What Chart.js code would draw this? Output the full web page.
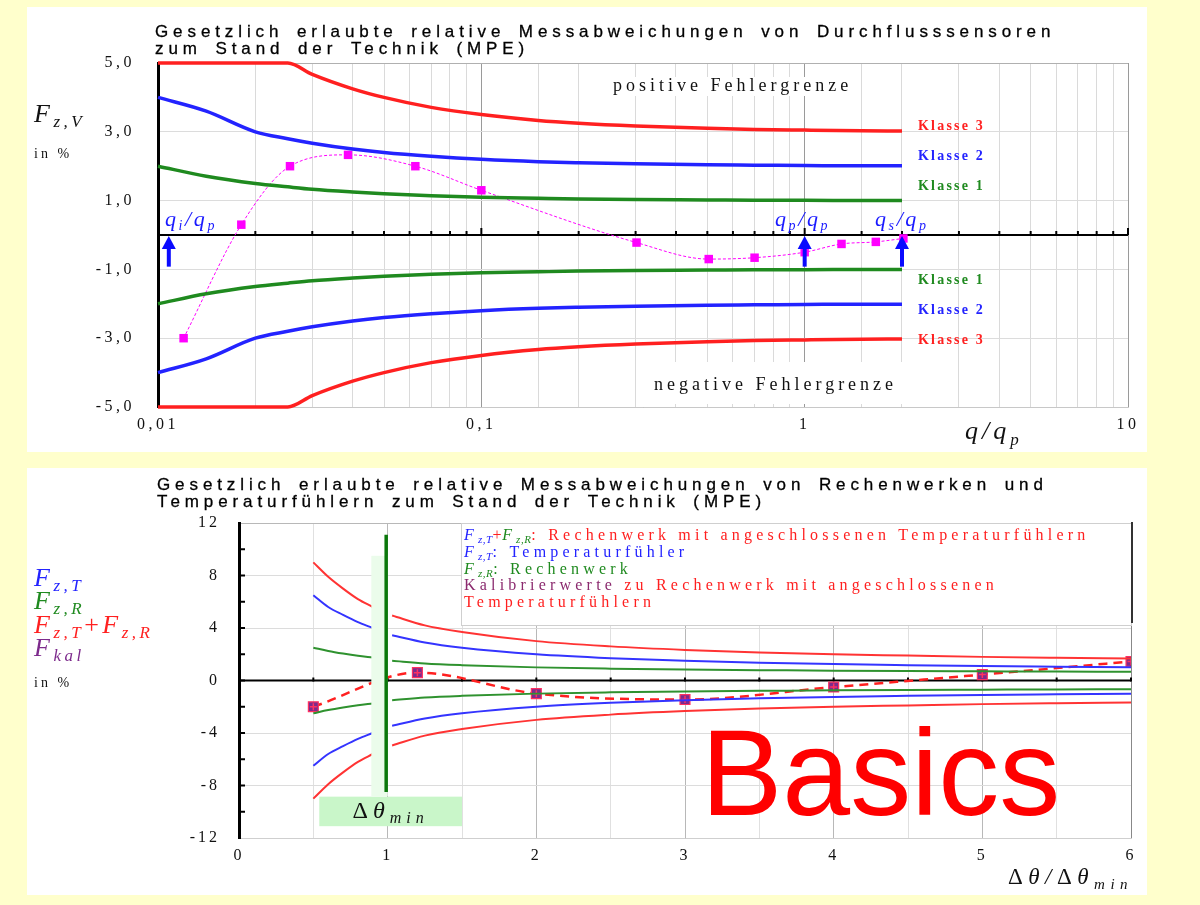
<!DOCTYPE html>
<html>
<head>
<meta charset="utf-8">
<script src="https://cdn.jsdelivr.net/npm/chart.js@4.4.1/dist/chart.umd.min.js"></script>
<style>
  body { margin:0; background:#ffffcc; width:1200px; height:905px; overflow:hidden; position:relative; }
  canvas { position:absolute; background:#fff; }
  #top { left:27px; top:7px; }
  #bottom { left:27px; top:468px; }
</style>
</head>
<body>
<canvas id="top" width="1120" height="445"></canvas>
<canvas id="bottom" width="1120" height="427"></canvas>
<script>
// ---- top chart: Durchflusssensoren, x = q/qp (log) ----
const qX = [0.01, 0.0141, 0.02, 0.0252, 0.03, 0.04, 0.05, 0.07, 0.1, 0.15, 0.2, 0.3, 0.5, 0.7, 1, 1.5, 2];
const class3Pos = [5.0, 5.0, 5.0, 5.0, 4.67, 4.25, 4.0, 3.71, 3.5, 3.33, 3.25, 3.17, 3.1, 3.07, 3.05, 3.03, 3.02];
const class2Pos = [4.0, 3.6, 3.0, 2.8, 2.67, 2.5, 2.4, 2.29, 2.2, 2.13, 2.1, 2.07, 2.04, 2.03, 2.02, 2.01, 2.01];
const class1Pos = [2.0, 1.71, 1.5, 1.4, 1.33, 1.25, 1.2, 1.14, 1.1, 1.07, 1.05, 1.03, 1.02, 1.01, 1.01, 1.0, 1.0];
const class1Neg = [-2.0, -1.71, -1.5, -1.4, -1.33, -1.25, -1.2, -1.14, -1.1, -1.07, -1.05, -1.03, -1.02, -1.01, -1.01, -1.0, -1.0];
const class2Neg = [-4.0, -3.6, -3.0, -2.8, -2.67, -2.5, -2.4, -2.29, -2.2, -2.13, -2.1, -2.07, -2.04, -2.03, -2.02, -2.01, -2.01];
const class3Neg = [-5.0, -5.0, -5.0, -5.0, -4.67, -4.25, -4.0, -3.71, -3.5, -3.33, -3.25, -3.17, -3.1, -3.07, -3.05, -3.03, -3.02];
const measX = [0.012, 0.0181, 0.0256, 0.0387, 0.0625, 0.1, 0.302, 0.505, 0.70, 1.0, 1.30, 1.66, 2.02];
const measY = [-3.0, 0.3, 2.0, 2.33, 2.0, 1.3, -0.22, -0.7, -0.66, -0.5, -0.26, -0.2, -0.1];
const qTicks = [0.01, 0.1, 1, 10];
const qTickLabels = ['0,01', '0,1', '1', '10'];
const arrowQ = [0.0108, 1, 2];
const classNames = ['Klasse 3', 'Klasse 2', 'Klasse 1', 'Klasse 1', 'Klasse 2', 'Klasse 3'];

// ---- bottom chart: Rechenwerk + Temperaturfuehler, x = dTheta/dTheta_min ----
const dtX = [0.5, 0.6, 0.7, 0.8, 0.9, 0.95, 1.03, 1.25, 1.5, 2, 2.5, 3, 3.5, 4, 4.5, 5, 5.5, 6];
const sumPos = [9.0, 7.9, 7.0, 6.2, 5.6, null, 4.95, 4.2, 3.7, 3.0, 2.6, 2.33, 2.14, 2.0, 1.9, 1.8, 1.73, 1.67];
const tPos = [6.5, 5.6, 5.0, 4.45, 4.0, null, 3.45, 2.9, 2.5, 2.0, 1.7, 1.5, 1.36, 1.25, 1.17, 1.1, 1.05, 1.0];
const rPos = [2.5, 2.25, 2.05, 1.88, 1.75, null, 1.5, 1.3, 1.17, 1.0, 0.9, 0.83, 0.79, 0.75, 0.72, 0.7, 0.68, 0.67];
const rNeg = [-2.5, -2.25, -2.05, -1.88, -1.75, null, -1.5, -1.3, -1.17, -1.0, -0.9, -0.83, -0.79, -0.75, -0.72, -0.7, -0.68, -0.67];
const tNeg = [-6.5, -5.6, -5.0, -4.45, -4.0, null, -3.45, -2.9, -2.5, -2.0, -1.7, -1.5, -1.36, -1.25, -1.17, -1.1, -1.05, -1.0];
const sumNeg = [-9.0, -7.9, -7.0, -6.2, -5.6, null, -4.95, -4.2, -3.7, -3.0, -2.6, -2.33, -2.14, -2.0, -1.9, -1.8, -1.73, -1.67];
const kalX = [0.5, 1.2, 2, 3, 4, 5, 6];
const kalY = [-2.0, 0.6, -1.0, -1.45, -0.5, 0.45, 1.45];

const SERIF = '"Liberation Serif", "DejaVu Serif", serif';
const SANS = '"Liberation Sans", Arial, sans-serif';
const RED = '#ff2020', BLUE = '#2323ff', GREEN = '#1f8a1f', PURPLE = '#7d2a8c';

Chart.defaults.font.family = SERIF;
Chart.defaults.color = '#111';

function pts(xs, ys) { return xs.map((x, i) => ({ x: x, y: ys[i] })); }
function isDecade(v) { const l = Math.log10(v); return Math.abs(l - Math.round(l)) < 1e-6; }
function it(size) { return 'italic ' + size + 'px ' + SERIF; }
function rm(size) { return size + 'px ' + SERIF; }

// draws a row of text pieces (font, colour, baseline shift, own spacing)
function rich(ctx, x, y, parts, spacing, center) {
  ctx.save();
  ctx.textAlign = 'left';
  ctx.textBaseline = 'alphabetic';
  const sp = p => ((p.s !== undefined ? p.s : spacing) || 0) + 'px';
  if (center) {
    let w = 0;
    parts.forEach(p => { ctx.font = p.f; ctx.letterSpacing = sp(p); w += ctx.measureText(p.t).width; });
    x -= w / 2;
  }
  parts.forEach(p => {
    ctx.font = p.f;
    ctx.letterSpacing = sp(p);
    ctx.fillStyle = p.c || '#111';
    ctx.fillText(p.t, x, y + (p.dy || 0));
    x += ctx.measureText(p.t).width;
  });
  ctx.restore();
}

function arrow(ctx, x, yTip, yEnd, color) {
  ctx.save();
  ctx.strokeStyle = color; ctx.fillStyle = color; ctx.lineWidth = 4;
  ctx.beginPath(); ctx.moveTo(x, yEnd); ctx.lineTo(x, yTip + 10); ctx.stroke();
  ctx.beginPath(); ctx.moveTo(x, yTip); ctx.lineTo(x - 7, yTip + 13); ctx.lineTo(x + 7, yTip + 13); ctx.closePath(); ctx.fill();
  ctx.restore();
}

function limitSet(ys, color) {
  return { data: pts(qX, ys), showLine: true, borderColor: color, borderWidth: 3.5,
           pointRadius: 0, cubicInterpolationMode: 'monotone', clip: false };
}

function title(ctx, lines, x, y0) {
  ctx.save();
  ctx.fillStyle = '#000';
  ctx.strokeStyle = '#000';
  ctx.lineWidth = 0.3;
  ctx.font = '17px ' + SANS;
  ctx.letterSpacing = '4.9px';
  ctx.wordSpacing = '4px';
  ctx.textAlign = 'left';
  lines.forEach((l, i) => {
    ctx.fillText(l, x, y0 + i * 17);
    ctx.strokeText(l, x, y0 + i * 17);
  });
  ctx.restore();
}

const topDeco = {
  id: 'topDeco',
  beforeDraw(chart) { chart.ctx.letterSpacing = '3.5px'; },
  beforeDatasetsDraw(chart) {
    const { ctx, chartArea: a, scales: { x, y } } = chart;
    ctx.save();
    ctx.fillStyle = '#fff';
    ctx.fillRect(583, 70, 250, 19);
    ctx.fillRect(613, 355, 264, 42);
    const y0 = y.getPixelForValue(0);
    ctx.strokeStyle = '#000'; ctx.lineWidth = 2;
    ctx.beginPath(); ctx.moveTo(a.left, y0); ctx.lineTo(a.right, y0); ctx.stroke();
    x.ticks.forEach(t => {
      const px = x.getPixelForValue(t.value);
      ctx.beginPath(); ctx.moveTo(px, y0); ctx.lineTo(px, y0 - (isDecade(t.value) ? 7 : 4)); ctx.stroke();
    });
    ctx.restore();
  },
  afterDatasetsDraw(chart) {
    const { ctx, scales: { x, y } } = chart;
    arrowQ.forEach(q => arrow(ctx, x.getPixelForValue(q), y.getPixelForValue(0) + 1, y.getPixelForValue(-0.92), '#0a0aff'));
  },
  afterDraw(chart) {
    const ctx = chart.ctx;
    title(ctx, ['Gesetzlich erlaubte relative Messabweichungen von Durchflusssensoren', 'zum Stand der Technik (MPE)'], 128, 29.5);

    rich(ctx, 7, 115, [{ t: 'F', f: it(26) }, { t: 'z,V', f: it(17), dy: 5 }], 3.5);
    rich(ctx, 7, 151, [{ t: 'in %', f: rm(14) }], 3);
    rich(ctx, 586, 84, [{ t: 'positive Fehlergrenze', f: rm(18) }], 4);
    rich(ctx, 627, 383, [{ t: 'negative Fehlergrenze', f: rm(18) }], 4);

    const kCol = [RED, BLUE, GREEN, GREEN, BLUE, RED];
    const kY = [123, 153, 183, 277, 307, 337];
    classNames.forEach((n, i) => rich(ctx, 891, kY[i], [{ t: n, f: 'bold 14px ' + SERIF, c: kCol[i] }], 2.2));

    const qc = '#1a1aff';
    const qLab = (sub, x0) => rich(ctx, x0, 219, [
      { t: 'q', f: it(22), c: qc }, { t: sub, f: it(14), c: qc, dy: 4 },
      { t: '/', f: it(22), c: qc }, { t: 'q', f: it(22), c: qc }, { t: 'p', f: it(14), c: qc, dy: 4 }], 2.6);
    qLab('i', 138); qLab('p', 748); qLab('s', 848);

    rich(ctx, 938, 432, [{ t: 'q', f: it(26) }, { t: '/', f: it(26) }, { t: 'q', f: it(26) }, { t: 'p', f: it(17), dy: 6 }], 4);
  }
};

new Chart(document.getElementById('top'), {
  type: 'scatter',
  data: {
    datasets: [
      limitSet(class3Pos, RED), limitSet(class2Pos, BLUE), limitSet(class1Pos, GREEN),
      limitSet(class1Neg, GREEN), limitSet(class2Neg, BLUE), limitSet(class3Neg, RED),
      { data: pts(measX, measY), showLine: true, borderColor: '#ff00ff', borderWidth: 1, borderDash: [3, 2],
        cubicInterpolationMode: 'monotone', pointStyle: 'rect', pointRadius: 6,
        pointBackgroundColor: '#ff00ff', pointBorderWidth: 0 }
    ]
  },
  options: {
    responsive: false, animation: false, devicePixelRatio: 1,
    layout: { padding: { left: 0, right: 19, top: 56, bottom: 0 } },
    plugins: { legend: { display: false }, tooltip: { enabled: false } },
    scales: {
      x: {
        type: 'logarithmic', min: 0.01, max: 10,
        afterFit(s) { s.height = 45; },
        grid: { drawTicks: false, color: c => isDecade(c.tick.value) ? '#9a9a9a' : '#dadada' },
        border: { color: '#c8c8c8' },
        ticks: {
          autoSkip: false, maxRotation: 0, padding: 8, font: { size: 16 },
          callback: v => { const i = qTicks.findIndex(t => Math.abs(Math.log10(v) - Math.log10(t)) < 1e-6); return i >= 0 ? qTickLabels[i] : ''; }
        }
      },
      y: {
        min: -5, max: 5,
        afterFit(s) { s.width = 131; },
        grid: { drawTicks: false, color: c => Math.abs(c.tick.value) === 5 ? '#b0b0b0' : '#dcdcdc' },
        border: { color: '#000', width: 3 },
        ticks: { stepSize: 2, padding: 23, font: { size: 16 }, callback: v => v.toFixed(1).replace('.', ',') }
      }
    }
  },
  plugins: [topDeco]
});

// ---- bottom chart ----
const BRED = '#ff3333', BBLUE = '#3434ff', BGREEN = '#2f922f';
function bandSet(ys, color) {
  return { data: pts(dtX, ys), showLine: true, spanGaps: false, borderColor: color, borderWidth: 2,
           pointRadius: 0, cubicInterpolationMode: 'monotone' };
}

const bottomDeco = {
  id: 'bottomDeco',
  beforeDraw(chart) { chart.ctx.letterSpacing = '3px'; },
  beforeDatasetsDraw(chart) {
    const { ctx, chartArea: a, scales: { x, y } } = chart;
    ctx.save();
    const y0 = y.getPixelForValue(0);
    ctx.strokeStyle = '#000'; ctx.lineWidth = 2;
    ctx.beginPath(); ctx.moveTo(a.left, y0); ctx.lineTo(a.right, y0); ctx.stroke();
    x.ticks.forEach(t => {
      const px = x.getPixelForValue(t.value);
      ctx.beginPath(); ctx.moveTo(px, y0 - 3); ctx.lineTo(px, y0 + 1); ctx.stroke();
    });
    for (let v = -10; v <= 10; v += 2) {
      const py = y.getPixelForValue(v);
      ctx.beginPath(); ctx.moveTo(a.left, py); ctx.lineTo(a.left + 6, py); ctx.stroke();
    }
    ctx.restore();
  },
  afterDatasetsDraw(chart) {
    const { ctx, scales: { x, y } } = chart;
    ctx.save();
    // Delta theta_min band and marker line
    ctx.fillStyle = '#ebfceb';
    ctx.fillRect(x.getPixelForValue(0.89), y.getPixelForValue(9.5), x.getPixelForValue(1.0) - x.getPixelForValue(0.89), y.getPixelForValue(-8.8) - y.getPixelForValue(9.5));
    ctx.strokeStyle = '#0b780b'; ctx.lineWidth = 3.5;
    ctx.beginPath(); ctx.moveTo(x.getPixelForValue(0.99), y.getPixelForValue(11.1)); ctx.lineTo(x.getPixelForValue(0.99), y.getPixelForValue(-8.5)); ctx.stroke();
    ctx.fillStyle = '#c9f6c9';
    ctx.fillRect(x.getPixelForValue(0.54), y.getPixelForValue(-8.85), x.getPixelForValue(1.5) - x.getPixelForValue(0.54), y.getPixelForValue(-11.1) - y.getPixelForValue(-8.85));
    ctx.restore();
    rich(ctx, x.getPixelForValue(1.02), y.getPixelForValue(-10.5),
      [{ t: '\u0394', f: rm(24) }, { t: '\u03b8', f: it(24) }, { t: 'min', f: it(16), dy: 5 }], 5, true);

    // legend box
    ctx.save();
    ctx.fillStyle = '#fff';
    ctx.fillRect(434, 55, 670, 102);
    ctx.strokeStyle = '#cfcfcf'; ctx.lineWidth = 1;
    ctx.strokeRect(434.5, 55.5, 670, 102);
    ctx.strokeStyle = '#333'; ctx.lineWidth = 2;
    ctx.beginPath(); ctx.moveTo(1105, 54); ctx.lineTo(1105, 155); ctx.stroke();
    ctx.restore();
    const f16 = rm(16), i16 = it(16), s11 = it(11);
    const LS = 4.2;
    rich(ctx, 437, 72, [{ t: 'F', f: i16, c: BLUE }, { t: 'z,T', f: s11, c: BLUE, dy: 3, s: 0.5 }, { t: '+', f: f16, c: RED, s: 0.5 },
      { t: 'F', f: i16, c: GREEN }, { t: 'z,R', f: s11, c: GREEN, dy: 3, s: 0.5 },
      { t: ': Rechenwerk mit angeschlossenen Temperaturf\u00fchlern', f: f16, c: RED }], LS);
    rich(ctx, 437, 89, [{ t: 'F', f: i16, c: BLUE }, { t: 'z,T', f: s11, c: BLUE, dy: 3, s: 0.5 }, { t: ': Temperaturf\u00fchler', f: f16, c: BLUE }], LS);
    rich(ctx, 437, 106, [{ t: 'F', f: i16, c: GREEN }, { t: 'z,R', f: s11, c: GREEN, dy: 3, s: 0.5 }, { t: ': Rechenwerk', f: f16, c: GREEN }], LS);
    rich(ctx, 437, 122, [{ t: 'Kalibrierwerte', f: f16, c: '#8b2a6e' }, { t: ' zu Rechenwerk mit angeschlossenen', f: f16, c: RED }], LS);
    rich(ctx, 437, 139, [{ t: 'Temperaturf\u00fchlern', f: f16, c: RED }], LS);
  },
  afterDraw(chart) {
    const ctx = chart.ctx;
    title(ctx, ['Gesetzlich erlaubte relative Messabweichungen von Rechenwerken und', 'Temperaturf\u00fchlern zum Stand der Technik (MPE)'], 130, 22);

    const F = it(26), S = it(17);
    rich(ctx, 7, 118, [{ t: 'F', f: F, c: BLUE }, { t: 'z,T', f: S, c: BLUE, dy: 5 }], 3.5);
    rich(ctx, 7, 141, [{ t: 'F', f: F, c: GREEN }, { t: 'z,R', f: S, c: GREEN, dy: 5 }], 3.5);
    rich(ctx, 7, 165, [{ t: 'F', f: F, c: RED }, { t: 'z,T', f: S, c: RED, dy: 5 }, { t: '+', f: rm(26), c: RED },
      { t: 'F', f: F, c: RED }, { t: 'z,R', f: S, c: RED, dy: 5 }], 3.5);
    rich(ctx, 7, 188, [{ t: 'F', f: F, c: PURPLE }, { t: 'kal', f: S, c: PURPLE, dy: 5 }], 3.5);
    rich(ctx, 7, 219, [{ t: 'in %', f: rm(14) }], 3);

    rich(ctx, 981, 416, [{ t: '\u0394', f: rm(23) }, { t: '\u03b8', f: it(23) }, { t: '/', f: it(23) },
      { t: '\u0394', f: rm(23) }, { t: '\u03b8', f: it(23) }, { t: 'min', f: it(15), dy: 5 }], 5.5);

    ctx.save();
    ctx.letterSpacing = '0px';
    ctx.fillStyle = '#ff0000';
    ctx.font = '122px ' + SANS;
    ctx.fillText('Basics', 674, 347);
    ctx.restore();
  }
};

new Chart(document.getElementById('bottom'), {
  type: 'scatter',
  data: {
    datasets: [
      bandSet(sumPos, BRED), bandSet(tPos, BBLUE), bandSet(rPos, BGREEN),
      bandSet(rNeg, BGREEN), bandSet(tNeg, BBLUE), bandSet(sumNeg, BRED),
      { data: pts(kalX, kalY), showLine: false, pointStyle: 'cross', pointRadius: 3.5,
        pointBorderColor: '#ff3060', pointBorderWidth: 1.5 },
      { data: pts(kalX, kalY), showLine: true, borderColor: '#ff2020', borderWidth: 2.5, borderDash: [9, 6],
        cubicInterpolationMode: 'monotone', pointStyle: 'rect', pointRadius: 7,
        pointBackgroundColor: PURPLE, pointBorderColor: '#ff3060', pointBorderWidth: 1.2 }
    ]
  },
  options: {
    responsive: false, animation: false, devicePixelRatio: 1,
    layout: { padding: { left: 0, right: 16, top: 55, bottom: 0 } },
    plugins: { legend: { display: false }, tooltip: { enabled: false } },
    scales: {
      x: {
        type: 'linear', min: 0, max: 6,
        afterFit(s) { s.height = 57; },
        grid: { drawTicks: false, color: c => Number.isInteger(c.tick.value) ? (c.tick.value === 6 ? '#888' : '#b8b8b8') : '#e0e0e0' },
        border: { color: '#cfcfcf' },
        ticks: { stepSize: 0.5, autoSkip: false, maxRotation: 0, padding: 8, font: { size: 16 },
                 callback: v => Number.isInteger(v) ? String(v) : '' }
      },
      y: {
        min: -12, max: 12,
        afterFit(s) { s.width = 212; },
        grid: { drawTicks: false, color: c => {
          const v = c.tick.value;
          if (Math.abs(v) === 12) return '#b8b8b8';
          return (v % 4 === 0 && v !== 0) ? '#dcdcdc' : 'rgba(0,0,0,0)';
        } },
        border: { color: '#000', width: 3 },
        ticks: { stepSize: 2, padding: 19, font: { size: 16 }, callback: v => v % 4 === 0 ? String(v) : '' }
      }
    }
  },
  plugins: [bottomDeco]
});
</script>
</body>
</html>
